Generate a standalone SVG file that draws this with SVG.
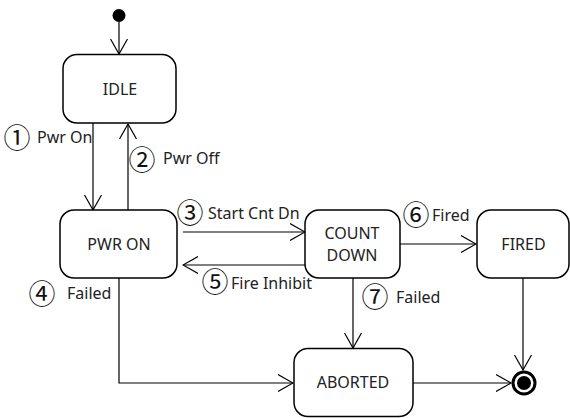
<svg xmlns="http://www.w3.org/2000/svg" width="570" height="418" viewBox="0 0 570 418">
<style>
.box{fill:#fff;stroke:#000;stroke-width:1.5}
.t{font-family:"Noto Sans","Liberation Sans",sans-serif;font-size:16px;fill:#222}
.c{font-family:"Noto Sans CJK KR","DejaVu Sans",sans-serif;font-size:27px;fill:#111;text-anchor:middle}
.m{text-anchor:middle}
.ln{fill:none;stroke:#000;stroke-width:1.2}
</style>
<defs>
<marker id="ah" viewBox="0 0 16 18" markerWidth="16" markerHeight="18" refX="15" refY="9" orient="auto" markerUnits="userSpaceOnUse">
<path d="M0,0.5 L15,9 L0,17.5" fill="none" stroke="#000" stroke-width="1.2"/>
</marker>
</defs>
<g id="connectors">
<line class="ln" x1="119" y1="22" x2="119" y2="54" marker-end="url(#ah)"/>
<line class="ln" x1="93" y1="123" x2="93" y2="210" marker-end="url(#ah)"/>
<line class="ln" x1="128" y1="210" x2="128" y2="124" marker-end="url(#ah)"/>
<line class="ln" x1="183" y1="232" x2="305" y2="232" marker-end="url(#ah)"/>
<line class="ln" x1="305" y1="265" x2="183" y2="265" marker-end="url(#ah)"/>
<line class="ln" x1="400" y1="244" x2="476" y2="244" marker-end="url(#ah)"/>
<line class="ln" x1="523" y1="278" x2="523" y2="370" marker-end="url(#ah)"/>
<polyline class="ln" points="119,278 119,383 293,383" marker-end="url(#ah)"/>
<line class="ln" x1="353" y1="278" x2="353" y2="348" marker-end="url(#ah)"/>
<line class="ln" x1="413" y1="383" x2="511" y2="383" marker-end="url(#ah)"/>
<text class="c" x="17" y="148">①</text><text class="t" x="37" y="143">Pwr On</text>
<text class="c" x="142" y="170">②</text><text class="t" x="163" y="164">Pwr Off</text>
<text class="c" x="190" y="223">③</text><text class="t" x="208" y="219">Start Cnt Dn</text>
<text class="c" x="42" y="304">④</text><text class="t" x="67" y="299">Failed</text>
<text class="c" x="215" y="292">⑤</text><text class="t" x="231" y="289">Fire Inhibit</text>
<text class="c" x="416" y="225">⑥</text><text class="t" x="432" y="221">Fired</text>
<text class="c" x="375" y="307">⑦</text><text class="t" x="396" y="303">Failed</text>
</g>
<g id="initial"><circle cx="119" cy="15.5" r="6.5" fill="#000"/></g>
<g id="idle"><rect class="box" x="63" y="54.5" width="113" height="68.5" rx="14"/><text class="t m" x="120" y="95">IDLE</text></g>
<g id="pwron"><rect class="box" x="60" y="210" width="117" height="68" rx="14"/><text class="t m" x="119" y="250">PWR ON</text></g>
<g id="countdown"><rect class="box" x="305" y="210" width="95" height="68" rx="14"/><text class="t m" x="352" y="239">COUNT</text><text class="t m" x="352" y="261">DOWN</text></g>
<g id="fired"><rect class="box" x="477" y="210" width="92" height="68" rx="14"/><text class="t m" x="523.5" y="250">FIRED</text></g>
<g id="aborted"><rect class="box" x="294" y="348.5" width="119" height="68" rx="14"/><text class="t m" x="353" y="388">ABORTED</text></g>
<g id="final"><circle cx="524" cy="383" r="11" fill="#fff" stroke="#000" stroke-width="3"/><circle cx="524" cy="383" r="7" fill="#000"/></g>
</svg>
